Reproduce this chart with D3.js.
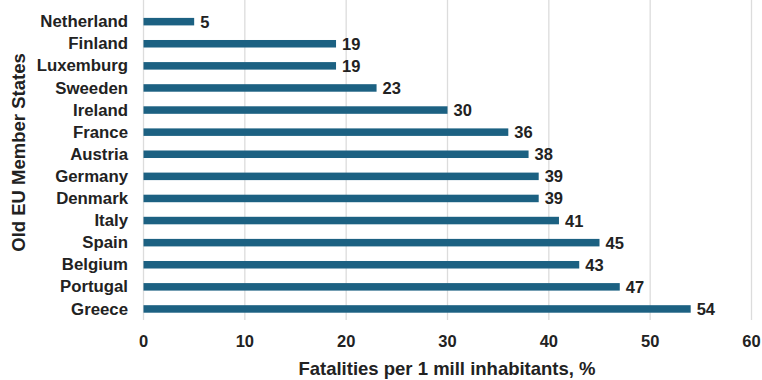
<!DOCTYPE html>
<html>
<head>
<meta charset="utf-8">
<script src="https://cdn.jsdelivr.net/npm/d3@7"></script>
<style>
  html, body { margin: 0; padding: 0; background: #fff; }
  svg text { font-family: "Liberation Sans", Arial, Helvetica, sans-serif; font-weight: bold; fill: #222; }
</style>
</head>
<body>
<svg id="chart" width="762" height="380"></svg>
<script>
const countries = ["Netherland", "Finland", "Luxemburg", "Sweeden", "Ireland", "France", "Austria",
                   "Germany", "Denmark", "Italy", "Spain", "Belgium", "Portugal", "Greece"];
const fatalities = [5, 19, 19, 23, 30, 36, 38, 39, 39, 41, 45, 43, 47, 54];
const xTicks = [0, 10, 20, 30, 40, 50, 60];

const svg = d3.select("#chart");
const plot = { left: 143.5, right: 751.5, top: 10.6, bottom: 320 };

const x = d3.scaleLinear().domain([0, 60]).range([plot.left, plot.right]);
const y = d3.scaleBand().domain(countries).range([plot.top, plot.bottom]).paddingInner(0.66).paddingOuter(0.33);

// vertical gridlines
svg.append("g").selectAll("line").data(xTicks).join("line")
  .attr("x1", d => x(d)).attr("x2", d => x(d))
  .attr("y1", 0).attr("y2", plot.bottom)
  .attr("stroke", "#dcdcdc").attr("stroke-width", 1.3);

// bars
svg.append("g").selectAll("rect").data(countries).join("rect")
  .attr("x", x(0))
  .attr("y", d => y(d))
  .attr("width", (d, i) => x(fatalities[i]) - x(0))
  .attr("height", y.bandwidth())
  .attr("fill", "#1c6182");

// value labels
svg.append("g").selectAll("text").data(countries).join("text")
  .attr("x", (d, i) => x(fatalities[i]) + 6)
  .attr("y", d => y(d) + y.bandwidth() / 2 + 6)
  .attr("font-size", 16.5)
  .text((d, i) => fatalities[i]);

// category labels
svg.append("g").selectAll("text").data(countries).join("text")
  .attr("x", 128)
  .attr("y", d => y(d) + y.bandwidth() / 2 + 5.6)
  .attr("text-anchor", "end")
  .attr("font-size", 16.8)
  .text(d => d);

// x tick labels
svg.append("g").selectAll("text").data(xTicks).join("text")
  .attr("x", d => x(d))
  .attr("y", 346.5)
  .attr("text-anchor", "middle")
  .attr("font-size", 16.5)
  .text(d => d);

// axis titles
svg.append("text")
  .attr("x", 447).attr("y", 374.5)
  .attr("text-anchor", "middle").attr("font-size", 18.5)
  .text("Fatalities per 1 mill inhabitants, %");

svg.append("text")
  .attr("transform", "translate(25,152.5) rotate(-90)")
  .attr("text-anchor", "middle").attr("font-size", 18.5)
  .text("Old EU Member States");
</script>
</body>
</html>
